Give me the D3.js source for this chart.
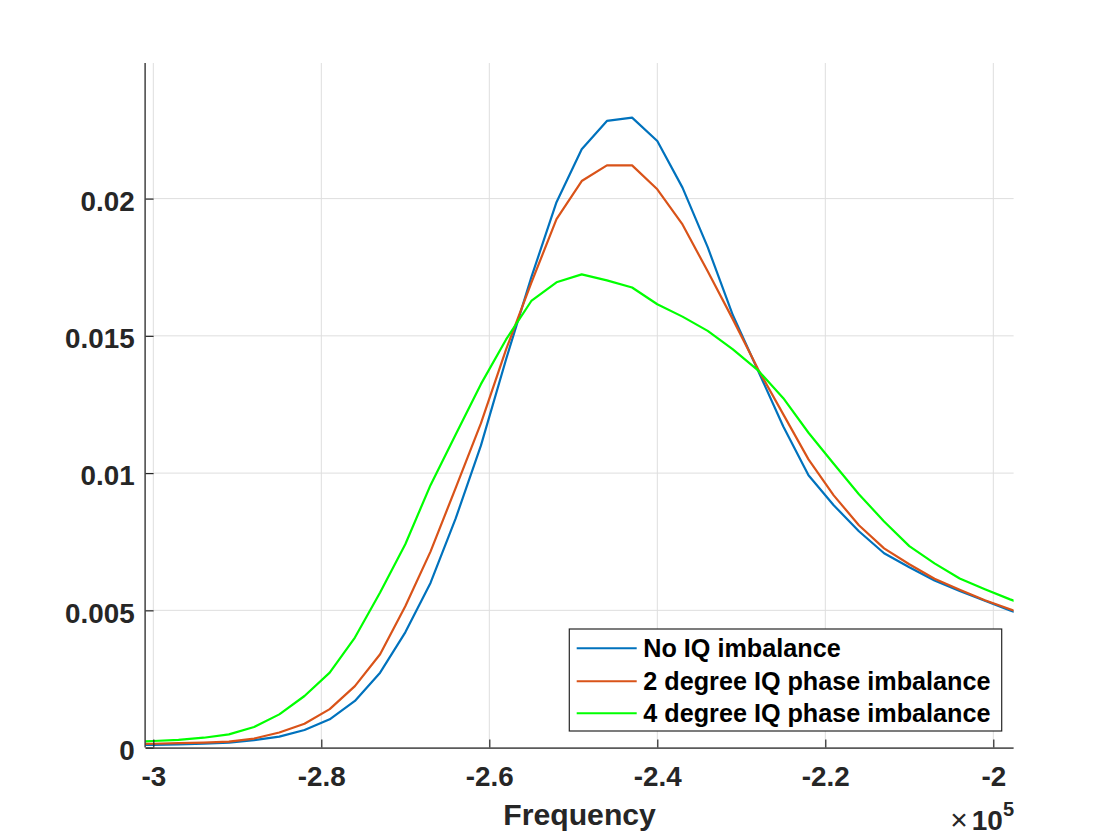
<!DOCTYPE html>
<html>
<head>
<meta charset="utf-8">
<script src="https://cdn.jsdelivr.net/npm/d3@7"></script>
<style>
  html, body { margin: 0; padding: 0; background: #ffffff; }
  svg { display: block; font-family: "Liberation Sans", Arial, Helvetica, sans-serif; }
</style>
</head>
<body>
<svg id="chart" width="1120" height="840"></svg>
<script>
// ---- data (frequency in Hz) ----
const frequency = [
  -303000, -300000, -297000, -294000, -291000, -288000, -285000, -282000, -279000, -276000,
  -273000, -270000, -267000, -264000, -261000, -258000, -255000, -252000, -249000, -246000,
  -243000, -240000, -237000, -234000, -231000, -228000, -225000, -222000, -219000, -216000,
  -213000, -210000, -207000, -204000, -201000, -198000, -195000
];
const noImbalance = [
  0.00010, 0.00010, 0.00012, 0.00014, 0.00018, 0.00027, 0.00040, 0.00064, 0.00103, 0.00170,
  0.00273, 0.00420, 0.00600, 0.00835, 0.01100, 0.01415, 0.01713, 0.01987, 0.02180, 0.02283,
  0.02295, 0.02210, 0.02040, 0.01823, 0.01575, 0.01373, 0.01170, 0.00992, 0.00883, 0.00788,
  0.00708, 0.00657, 0.00609, 0.00571, 0.00535, 0.00500, 0.00467
];
const phase2deg = [
  0.00013, 0.00014, 0.00016, 0.00018, 0.00022, 0.00033, 0.00055, 0.00087, 0.00140, 0.00224,
  0.00340, 0.00515, 0.00714, 0.00946, 0.01181, 0.01451, 0.01693, 0.01925, 0.02064, 0.02121,
  0.02121, 0.02034, 0.01906, 0.01735, 0.01560, 0.01378, 0.01214, 0.01050, 0.00919, 0.00810,
  0.00726, 0.00668, 0.00615, 0.00575, 0.00537, 0.00504, 0.00473
];
const phase4deg = [
  0.00021, 0.00024, 0.00028, 0.00036, 0.00048, 0.00075, 0.00121, 0.00188, 0.00273, 0.00401,
  0.00565, 0.00741, 0.00956, 0.01141, 0.01324, 0.01487, 0.01627, 0.01695, 0.01724, 0.01702,
  0.01676, 0.01615, 0.01570, 0.01518, 0.01451, 0.01374, 0.01273, 0.01147, 0.01034, 0.00923,
  0.00824, 0.00734, 0.00671, 0.00616, 0.00577, 0.00540, 0.00507
];
const seriesNames = ["No IQ imbalance", "2 degree IQ phase imbalance", "4 degree IQ phase imbalance"];
const seriesColors = ["#0072BD", "#D95319", "#00FF00"];
const xTicks = [-300000, -280000, -260000, -240000, -220000, -200000];
const xTickLabels = ["-3", "-2.8", "-2.6", "-2.4", "-2.2", "-2"];
const yTicks = [0, 0.005, 0.01, 0.015, 0.02];
const yTickLabels = ["0", "0.005", "0.01", "0.015", "0.02"];
const xLabel = "Frequency";

// ---- layout ----
const L = 145.6, R = 1013.6, T = 63, B = 747.6;
const axisColor = "#262626";
const svg = d3.select("#chart");

const x = d3.scaleLinear().domain([-300917, -197583]).range([L, R]);
const y = d3.scaleLinear().domain([0, 0.02494]).range([B, T]);

svg.append("rect").attr("x", 0).attr("y", 0).attr("width", 1120).attr("height", 840).attr("fill", "#fff");

// grid
const grid = svg.append("g").attr("stroke", "#dedede").attr("stroke-width", 1);
grid.selectAll("line.vx").data(xTicks).enter().append("line")
  .attr("x1", d => x(d)).attr("x2", d => x(d)).attr("y1", T).attr("y2", B);
grid.selectAll("line.hy").data(yTicks).enter().append("line")
  .attr("x1", L).attr("x2", R).attr("y1", d => y(d)).attr("y2", d => y(d));

// clip
svg.append("clipPath").attr("id", "plotclip").append("rect")
  .attr("x", L).attr("y", T).attr("width", R - L).attr("height", B - T);

// lines
const allSeries = [noImbalance, phase2deg, phase4deg];
const line = d3.line().x((d, i) => x(frequency[i])).y(d => y(d));
const lg = svg.append("g").attr("clip-path", "url(#plotclip)");
allSeries.forEach((s, k) => {
  lg.append("path").datum(s).attr("d", line)
    .attr("fill", "none").attr("stroke", seriesColors[k]).attr("stroke-width", 2.2)
    .attr("stroke-linejoin", "round");
});

// axes (MATLAB-like: inward ticks, no box)
const xAxis = d3.axisBottom(x).tickValues(xTicks).tickSizeInner(-8).tickSizeOuter(0)
  .tickFormat((d, i) => xTickLabels[i]).tickPadding(0);
const gx = svg.append("g").attr("transform", `translate(0,${B})`).call(xAxis);
gx.select(".domain").attr("stroke", axisColor).attr("stroke-width", 1.3)
  .attr("d", `M${L},0.5H${R}`);
gx.selectAll(".tick line").attr("stroke", axisColor).attr("stroke-width", 1.2);
gx.selectAll(".tick text").attr("fill", axisColor).attr("font-size", 27.8).attr("font-weight", "bold")
  .attr("y", 38.5).attr("dy", 0).attr("font-family", "Liberation Sans, Arial, sans-serif");

const yAxis = d3.axisLeft(y).tickValues(yTicks).tickSizeInner(-8).tickSizeOuter(0)
  .tickFormat((d, i) => yTickLabels[i]);
const gy = svg.append("g").attr("transform", `translate(${L},0)`).call(yAxis);
gy.select(".domain").attr("stroke", axisColor).attr("stroke-width", 1.3)
  .attr("d", `M-0.5,${T}V${B}`);
gy.selectAll(".tick line").attr("stroke", axisColor).attr("stroke-width", 1.2);
gy.selectAll(".tick text").attr("fill", axisColor).attr("font-size", 27.8).attr("font-weight", "bold")
  .attr("x", -11).attr("dy", "0.42em").attr("font-family", "Liberation Sans, Arial, sans-serif");

// x label
svg.append("text").attr("x", (L + R) / 2).attr("y", 825).attr("text-anchor", "middle")
  .attr("font-size", 30.2).attr("font-weight", "bold").attr("fill", axisColor).text(xLabel);

// exponent label x10^5
const ex = svg.append("text").attr("x", 1014).attr("y", 830).attr("text-anchor", "end")
  .attr("fill", axisColor).attr("font-size", 28);
ex.append("tspan").attr("font-weight", "normal").attr("font-size", 30).text("\u00D7");
ex.append("tspan").attr("font-weight", "bold").attr("dx", 4).text("10");
ex.append("tspan").attr("font-weight", "bold").attr("font-size", 20).attr("dy", -14).text("5");

// legend
const legX = 569.3, legY = 629, legW = 432.4, legH = 102;
const leg = svg.append("g");
leg.append("rect").attr("x", legX).attr("y", legY).attr("width", legW).attr("height", legH)
  .attr("fill", "#fff").attr("stroke", axisColor).attr("stroke-width", 1.2);
const rowY = [648.3, 681.3, 713.3];
seriesNames.forEach((name, k) => {
  leg.append("line").attr("x1", 576.7).attr("x2", 636.7).attr("y1", rowY[k]).attr("y2", rowY[k])
    .attr("stroke", seriesColors[k]).attr("stroke-width", 2);
  leg.append("text").attr("x", 643.3).attr("y", rowY[k]).attr("dy", "0.36em")
    .attr("font-size", 25.2).attr("font-weight", "bold").attr("fill", "#000").text(name);
});
</script>
</body>
</html>
